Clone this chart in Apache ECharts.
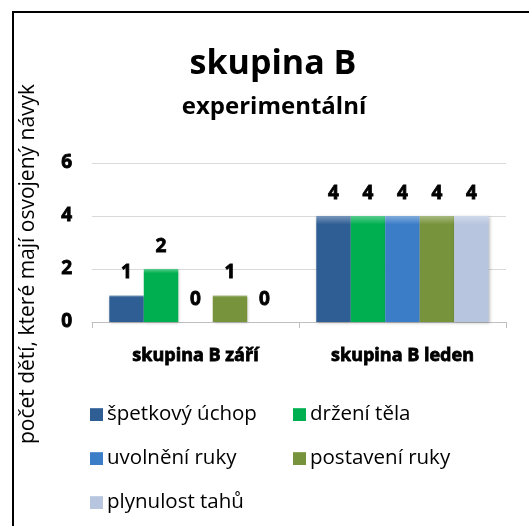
<!DOCTYPE html>
<html><head><meta charset="utf-8">
<script src="https://cdn.jsdelivr.net/npm/echarts@6/dist/echarts.min.js"></script>
<style>html,body{margin:0;padding:0;background:#fff}#c{width:529px;height:526px}</style>
</head><body><div id="c"></div>
<script>
const categories = ['skupina B září', 'skupina B leden'];
const seriesNames = ['špetkový úchop', 'držení těla', 'uvolnění ruky', 'postavení ruky', 'plynulost tahů'];
const spetkovyUchop = [1, 4];
const drzeniTela = [2, 4];
const uvolneniRuky = [0, 4];
const postaveniRuky = [1, 4];
const plynulostTahu = [0, 4];
const seriesValues = [spetkovyUchop, drzeniTela, uvolneniRuky, postaveniRuky, plynulostTahu];
const colors = ['#2F5E95', '#00B050', '#3C7DC8', '#77933C', '#B7C5DF'];
const titleText = 'skupina B';
const subtitleText = 'experimentální';
const yAxisName = 'počet dětí, které mají osvojený návyk';

const FONT = '"Open Sans", sans-serif';
function lighten(hex, f) {
  const n = parseInt(hex.slice(1), 16);
  let r = n >> 16, g = (n >> 8) & 255, b = n & 255;
  r = Math.round(r + (255 - r) * f); g = Math.round(g + (255 - g) * f); b = Math.round(b + (255 - b) * f);
  return 'rgb(' + r + ',' + g + ',' + b + ')';
}
const legendPos = [[90, 404], [293, 404], [90, 448], [293, 448], [90, 492]];
const heavy = {color: '#000', textBorderColor: '#000', textBorderWidth: 0.8};

const chart = echarts.init(document.getElementById('c'), null, {renderer: 'canvas'});
chart.setOption({
  backgroundColor: '#ffffff',
  animation: false,
  grid: {left: 92, right: 23, top: 163, bottom: 204, containLabel: false},
  xAxis: {
    type: 'category', data: categories,
    axisLine: {show: true, lineStyle: {color: '#BFBFBF', width: 1}},
    axisTick: {show: true, length: 6, lineStyle: {color: '#BFBFBF'}},
    axisLabel: Object.assign({margin: 25, fontFamily: FONT, fontSize: 18, fontWeight: 'bold'}, heavy)
  },
  yAxis: {
    type: 'value', min: 0, max: 6, interval: 2,
    axisLine: {show: false}, axisTick: {show: false},
    splitLine: {lineStyle: {color: '#D9D9D9', width: 1}},
    axisLabel: Object.assign({margin: 20, fontFamily: FONT, fontSize: 19, fontWeight: 'bold'}, heavy)
  },
  legend: seriesNames.map((n, i) => ({
    data: [n], left: legendPos[i][0], top: legendPos[i][1], padding: 0,
    icon: 'rect', itemWidth: 13, itemHeight: 13, itemGap: 6,
    textStyle: {fontFamily: FONT, fontSize: 20.5, color: '#000', padding: [0, 0, 0, -1]},
    selectedMode: false
  })),
  series: seriesNames.map((n, i) => ({
    name: n, type: 'bar', data: seriesValues[i],
    barGap: '0%', barCategoryGap: '16.7%',
    itemStyle: {
      color: new echarts.graphic.LinearGradient(0, 0, 0, 1, [
        {offset: 0, color: lighten(colors[i], 0.35)},
        {offset: 0.08, color: colors[i]},
        {offset: 1, color: colors[i]}
      ]),
      shadowColor: 'rgba(0,0,0,0.25)', shadowBlur: 3, shadowOffsetX: 1, shadowOffsetY: 1
    },
    label: Object.assign({show: true, position: 'top', distance: 13, fontFamily: FONT, fontSize: 19, fontWeight: 'bold'}, heavy)
  })),
  color: colors,
  graphic: [
    {type: 'polyline', shape: {points: [[13, 526], [13, 12], [529, 12]]}, style: {stroke: '#000', lineWidth: 2, fill: null}, silent: true},
    {type: 'text', x: 273, y: 64, style: {text: titleText, fontFamily: FONT, fontSize: 34, fontWeight: 'bold', fill: '#000', textAlign: 'center', textVerticalAlign: 'middle'}},
    {type: 'text', x: 274, y: 107, style: {text: subtitleText, fontFamily: FONT, fontSize: 24, fontWeight: 'bold', fill: '#000', textAlign: 'center', textVerticalAlign: 'middle'}},
    {type: 'text', x: 28, y: 264, rotation: Math.PI / 2, style: {text: yAxisName, fontFamily: FONT, fontSize: 21, fill: '#000', textAlign: 'center', textVerticalAlign: 'middle'}}
  ]
});
</script></body></html>
